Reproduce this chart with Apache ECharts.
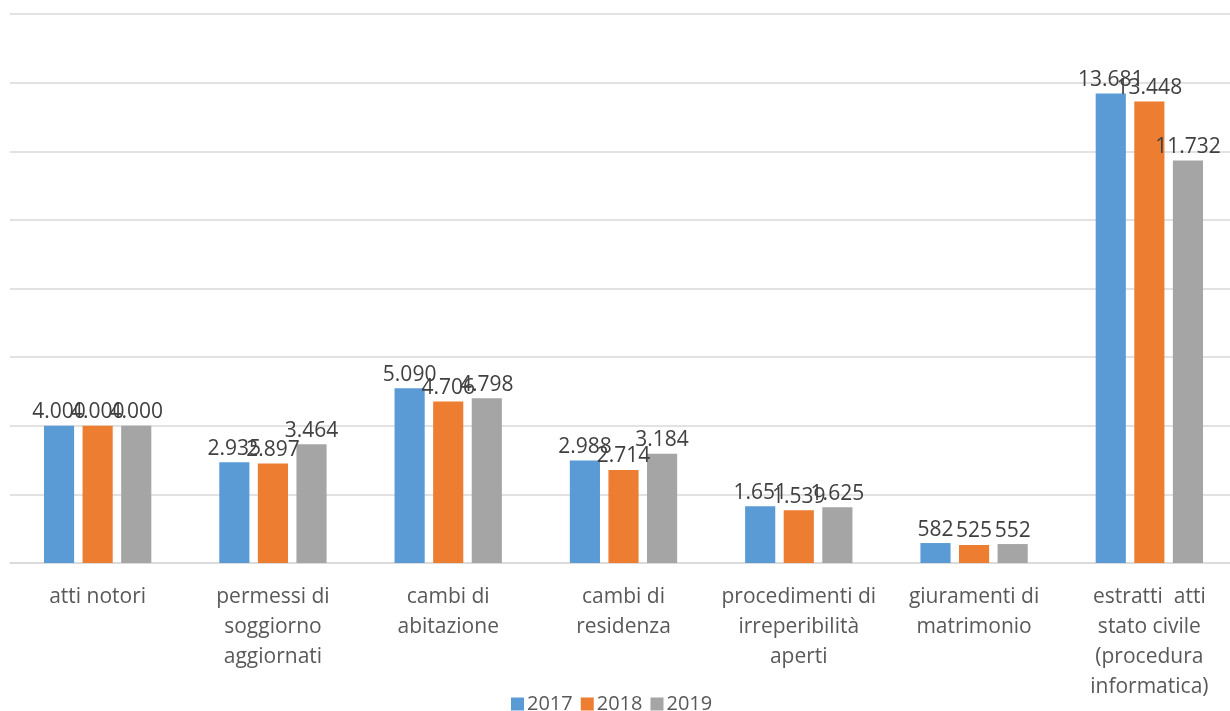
<!DOCTYPE html>
<html><head><meta charset="utf-8">
<script src="https://cdn.jsdelivr.net/npm/echarts@6/dist/echarts.min.js"></script>
<style>html,body{margin:0;padding:0;background:#fff}#c{width:1230px;height:711px}</style>
</head><body><div id="c"></div>
<script>
const categories = ["atti notori","permessi di\nsoggiorno\naggiornati","cambi di\nabitazione","cambi di\nresidenza","procedimenti di\nirreperibilità\naperti","giuramenti di\nmatrimonio","estratti  atti\nstato civile\n(procedura\ninformatica)"];
const seriesNames = ["2017","2018","2019"];
const v2017 = [4000,2935,5090,2988,1651,582,13681];
const v2018 = [4000,2897,4706,2714,1539,525,13448];
const v2019 = [4000,3464,4798,3184,1625,552,11732];
const colors = ["#5b9bd5","#ed7d31","#a5a5a5"];
const fmt = v => String(v).replace(/\B(?=(\d{3})+(?!\d))/g, ".");
const font = "'Open Sans', 'Noto Sans', sans-serif";
const chart = echarts.init(document.getElementById('c'));
const data = [v2017, v2018, v2019];
chart.setOption({
  animation:false,
  textStyle:{fontFamily:font},
  grid:{left:10,width:1227,top:14,bottom:148,outerBoundsMode:'none',containLabel:false},
  legend:{top:689,left:506,itemWidth:13,itemHeight:13,itemGap:8,icon:'rect',
    textStyle:{fontSize:20,color:'#595959',fontFamily:font,padding:[0,0,0,-2]},data:seriesNames},
  xAxis:{type:'category',data:categories,
    axisLine:{lineStyle:{color:'#d9d9d9',width:1.5}},axisTick:{show:false},
    axisLabel:{interval:0,fontSize:21,color:'#595959',lineHeight:30,margin:19,fontFamily:font}},
  yAxis:{type:'value',min:0,max:16000,interval:2000,
    axisLabel:{show:false},axisLine:{show:false},axisTick:{show:false},
    splitLine:{lineStyle:{color:'#d9d9d9',width:1.5}}},
  series: seriesNames.map((n,i)=>({
    name:n,type:'bar',data:data[i],barWidth:'17.2%',barGap:'28%',
    itemStyle:{color:colors[i]},
    label:{show:true,position:'top',distance:3,fontSize:21,color:'#404040',fontFamily:font,
      formatter:p=>fmt(p.value)}
  }))
});
</script></body></html>
